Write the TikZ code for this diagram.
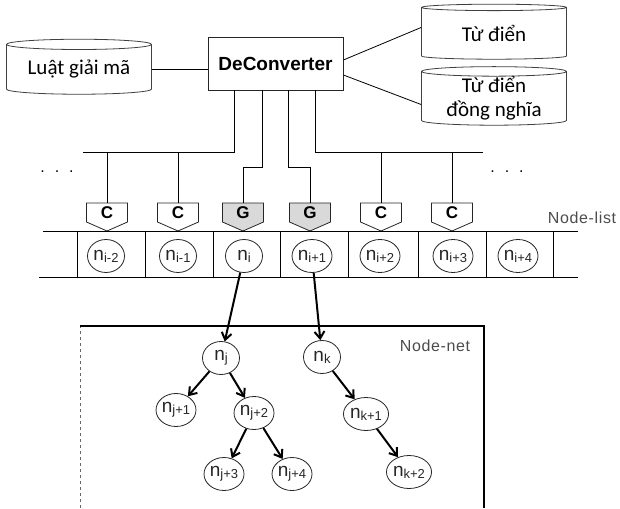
\documentclass[tikz,border=0pt]{standalone}
\usepackage{fontspec}
\setmainfont{Liberation Sans}
\newfontfamily\calfont{Carlito}
\usetikzlibrary{shapes.geometric,arrows.meta}
\newcommand{\nsub}[1]{n{\fontsize{13}{13}\selectfont\raisebox{-2pt}{#1}}}
\begin{document}
\begin{tikzpicture}[x=1pt,y=-1pt,line width=0.8pt,
  store/.style={cylinder,shape border rotate=90,draw=black!75,aspect=0.1,
    minimum width=145,minimum height=55,inner sep=0pt,align=center,
    font=\calfont\fontsize{21}{24}\selectfont},
  gate/.style={minimum width=41,minimum height=19,inner sep=0pt,
    font=\bfseries\fontsize{17}{17}\selectfont},
  item/.style={ellipse,draw=black!85,minimum width=37,minimum height=33,inner sep=0pt,
    font=\fontsize{19}{19}\selectfont,text=black!85},
  tag/.style={font=\fontsize{16}{16}\selectfont\addfontfeature{LetterSpace=4},text=black!70},
  link/.style={line width=2pt,-{Straight Barb[length=7pt,width=10pt]}}]
\useasboundingbox (0,0) rectangle (620,508);
% top: converter and its stores
\node[draw=black!85,minimum width=135,minimum height=53,inner sep=0pt,
  font=\bfseries\fontsize{19}{19}\selectfont] (deconv) at (275.5,63.5) {DeConverter};
\node[store] (luat) at (79,69.5) {Luật giải mã};
\node[store] (tudien) at (494,33.5) {Từ điển};
\node[store,minimum height=55] (dongnghia) at (494,98.5) {Từ điển\\đồng nghĩa};
\draw (luat.east) -- (luat.east -| deconv.west);
\draw ([yshift=3.5]deconv.east) -- ([yshift=6]tudien.west);
\draw ([yshift=-11.5]deconv.east) -- ([yshift=-6]dongnghia.west);
% gates
\foreach \nm/\x/\t/\f in {c1/107/C/white,c2/178/C/white,g1/243/G/black!15,
    g2/310/G/black!15,c3/381/C/white,c4/452/C/white} {
  \filldraw[draw=black!85,fill=\f] (\x-20.5,203) -- (\x+20.5,203) -- (\x+20.5,222)
    -- (\x,231) -- (\x-20.5,222) -- cycle;
  \node[gate] (\nm) at (\x,212.5) {\raisebox{-3pt}{\t}};
}
\coordinate (busl) at (83,152);
\coordinate (busr) at (483,152);
\draw ([xshift=27]deconv.south west) |- (busl);
\draw ([xshift=108]deconv.south west) |- (busr);
\draw ([xshift=55]deconv.south west) -- ++(0,77) -| (g1.north);
\draw ([xshift=81]deconv.south west) -- ++(0,77) -| (g2.north);
\foreach \g in {c1,c2,c3,c4}
  \draw (\g.north) -- (\g.north |- busl);
\node[font=\fontsize{16}{16}\selectfont] (dotsl) at (57,172) {.\hspace{10pt}.\hspace{10pt}.};
\node[font=\fontsize{16}{16}\selectfont] (dotsr) at (507,172) {.\hspace{10pt}.\hspace{10pt}.};
% node-list
\draw (43,231) -- (578,231);
\draw (39,277) -- (578,277);
\foreach \x in {77,145,213,280,348,418,486,553}
  \draw (\x,231) -- (\x,277);
\node[tag] (nodelist) at (582,218) {Node-list};
\node[item] (nim2) at (106,256) {\nsub{i-2}};
\node[item] (nim1) at (178,256) {\nsub{i-1}};
\node[item] (ni) at (244,256) {\nsub{i}};
\node[item] (nip1) at (312,256) {\nsub{i+1}};
\node[item] (nip2) at (380,256) {\nsub{i+2}};
\node[item] (nip3) at (453,256) {\nsub{i+3}};
\node[item] (nip4) at (518,256) {\nsub{i+4}};
% node-net
\draw[dashed,thin,black!60] (80,508) -- (80,326);
\draw[line width=1.6pt] (80,326) -- (484,326) -- (484,508);
\node[tag] (nodenet) at (435,346) {Node-net};
\node[item] (nj) at (221,358) {\nsub{j}};
\node[item] (nj1) at (176,410) {\nsub{j+1}};
\node[item] (nj2) at (254,413) {\nsub{j+2}};
\node[item] (nj3) at (224,474) {\nsub{j+3}};
\node[item] (nj4) at (292,474) {\nsub{j+4}};
\node[item] (nk) at (322,357) {\nsub{k}};
\node[item] (nk1) at (366,414) {\nsub{k+1}};
\node[item] (nk2) at (409,472) {\nsub{k+2}};
\draw[link] (ni) -- (nj);
\draw[link] (nip1) -- (nk);
\draw[link] (nj) -- (nj1);
\draw[link] (nj) -- (nj2);
\draw[link] (nj2) -- (nj3);
\draw[link] (nj2) -- (nj4);
\draw[link] (nk) -- (nk1);
\draw[link] (nk1) -- (nk2);
\end{tikzpicture}
\end{document}
